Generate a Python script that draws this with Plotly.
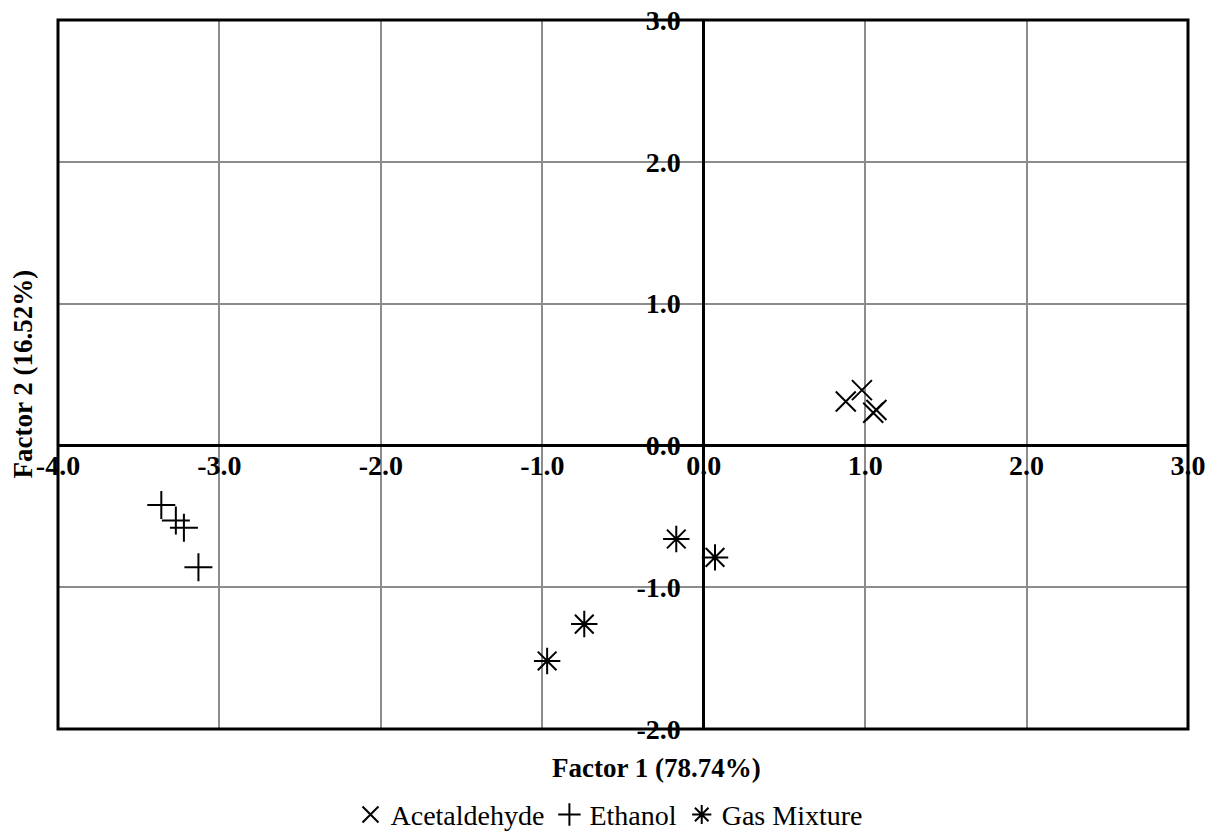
import plotly.graph_objects as go

# Data
acet_x = [0.88, 0.98, 1.05, 1.07]
acet_y = [0.31, 0.39, 0.23, 0.25]
eth_x = [-3.36, -3.27, -3.22, -3.13]
eth_y = [-0.42, -0.53, -0.58, -0.86]
gas_x = [-0.17, 0.07, -0.74, -0.97]
gas_y = [-0.66, -0.79, -1.26, -1.52]

x_ticks = [-4, -3, -2, -1, 0, 1, 2, 3]
y_ticks = [-2, -1, 0, 1, 2, 3]
x_range = [-4, 3]
y_range = [-2, 3]

FONT = "Liberation Serif"
mk_line = dict(color="black", width=2)

fig = go.Figure()
fig.add_trace(go.Scatter(x=acet_x, y=acet_y, mode="markers", name="Acetaldehyde",
                         marker=dict(symbol="x-thin-open", size=20, color="black", line=mk_line)))
fig.add_trace(go.Scatter(x=eth_x, y=eth_y, mode="markers", name="Ethanol",
                         marker=dict(symbol="cross-thin-open", size=20, color="black", line=mk_line)))
fig.add_trace(go.Scatter(x=gas_x, y=gas_y, mode="markers", name="Gas Mixture",
                         marker=dict(symbol="asterisk-open", size=22, color="black", line=mk_line)))

y0_frac = (0 - y_range[0]) / (y_range[1] - y_range[0])
x0_frac = (0 - x_range[0]) / (x_range[1] - x_range[0])

fig.update_layout(
    width=1218, height=836,
    margin=dict(l=58, r=30, t=20, b=107, autoexpand=False),
    paper_bgcolor="white", plot_bgcolor="white",
    font=dict(family=FONT, color="black"),
    showlegend=True,
    legend=dict(orientation="h", x=0.4876, xanchor="center", y=-0.121, yanchor="middle",
                font=dict(family=FONT, size=28, color="black"), itemwidth=30,
                bgcolor="rgba(0,0,0,0)"),
    xaxis=dict(range=x_range, tickvals=x_ticks, ticktext=[f"{v:.1f}" for v in x_ticks],
               anchor="free", position=y0_frac, showgrid=True, gridcolor="#8c8c8c", gridwidth=1.5,
               zeroline=True, zerolinecolor="black", zerolinewidth=3, showline=False,
               ticks="", ticklabelstandoff=1, automargin=False,
               tickfont=dict(family=FONT, size=28, color="black", weight="bold")),
    yaxis=dict(range=y_range, tickvals=y_ticks, ticktext=[f"{v:.1f}" for v in y_ticks],
               anchor="free", position=x0_frac, showgrid=True, gridcolor="#8c8c8c", gridwidth=1.5,
               zeroline=True, zerolinecolor="black", zerolinewidth=3, showline=False,
               ticks="", ticklabelstandoff=23, automargin=False,
               tickfont=dict(family=FONT, size=28, color="black", weight="bold")),
    shapes=[dict(type="rect", xref="paper", yref="paper", x0=0, x1=1, y0=0, y1=1,
                 line=dict(color="black", width=3), fillcolor="rgba(0,0,0,0)")],
    annotations=[
        dict(text="<b>Factor 1 (78.74%)</b>", xref="paper", yref="paper",
             x=(656 - 58) / 1130, y=(729 - 768) / 709, xanchor="center", yanchor="middle",
             showarrow=False, font=dict(family=FONT, size=27, color="black")),
        dict(text="<b>Factor 2 (16.52%)</b>", xref="paper", yref="paper",
             x=(22 - 58) / 1130, y=0.5, xanchor="center", yanchor="middle", textangle=-90,
             showarrow=False, font=dict(family=FONT, size=27, color="black")),
    ],
)

fig.write_html("out.html")
